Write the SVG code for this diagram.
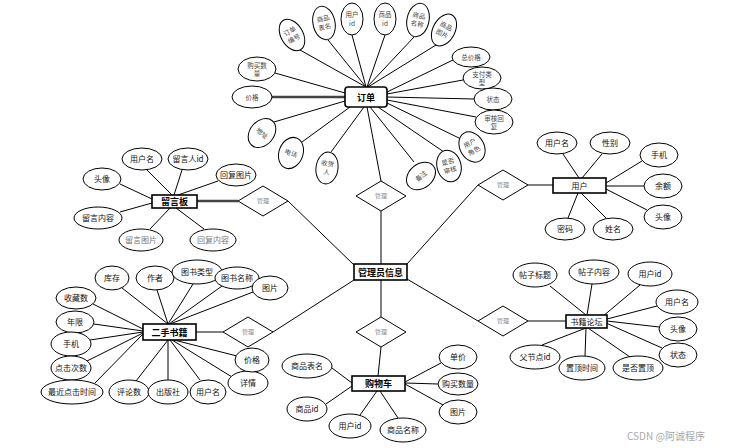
<svg xmlns="http://www.w3.org/2000/svg" width="738" height="448" viewBox="0 0 738 448">
<style>
.e{fill:#fff;stroke:#000;stroke-width:1}
.t{font-family:"Noto Sans CJK SC","Noto Sans",sans-serif;font-size:8px;text-anchor:middle;fill:#111}
.g{fill:#777}
.o{font-family:"Noto Sans CJK SC","Noto Sans",sans-serif;font-size:6.5px;text-anchor:middle;fill:#444}
.b{fill:#fff;stroke:#000;stroke-width:1.6}
.bt{font-family:"Noto Sans CJK SC","Noto Sans",sans-serif;font-size:9px;font-weight:bold;text-anchor:middle;fill:#000}
.d{fill:#fff;stroke:#000;stroke-width:1}
.dt{font-family:"Noto Sans CJK SC","Noto Sans",sans-serif;font-size:6px;text-anchor:middle;fill:#888}
.c line{stroke:#000;stroke-width:1}
.c .k{stroke:#444;stroke-width:2.5}
.w{font-family:"Noto Sans CJK SC","Noto Sans",sans-serif;font-size:10px;fill:#aaa}
</style>
<rect width="738" height="448" fill="#fff"/>
<g id="connectors" class="c">
<line x1="366" y1="87" x2="300" y2="50"/>
<line x1="366" y1="87" x2="328" y2="40"/>
<line x1="366" y1="87" x2="352" y2="35"/>
<line x1="367" y1="87" x2="385" y2="35"/>
<line x1="367" y1="87" x2="414" y2="37"/>
<line x1="368" y1="87" x2="436" y2="45"/>
<line x1="387" y1="92" x2="453" y2="60"/>
<line x1="387" y1="94" x2="463" y2="80"/>
<line x1="387" y1="97" x2="474" y2="99"/>
<line x1="387" y1="100" x2="476" y2="117"/>
<line x1="387" y1="103" x2="461" y2="139"/>
<line x1="378" y1="107" x2="444" y2="152"/>
<line x1="370" y1="107" x2="414" y2="162"/>
<line x1="364" y1="107" x2="331" y2="152"/>
<line x1="350" y1="107" x2="302" y2="142"/>
<line x1="345" y1="101" x2="274" y2="122"/>
<line class="k" x1="345" y1="97" x2="272" y2="97"/>
<line x1="345" y1="93" x2="275" y2="73"/>
<line x1="367" y1="107" x2="381" y2="181"/>
<line x1="381" y1="211" x2="381" y2="264"/>
<line class="k" x1="197" y1="201" x2="238" y2="201"/>
<line x1="288" y1="201" x2="354" y2="265"/>
<line x1="147" y1="170" x2="172" y2="195"/>
<line x1="182" y1="170" x2="174" y2="195"/>
<line x1="218" y1="181" x2="178" y2="195"/>
<line x1="120" y1="184" x2="152" y2="199"/>
<line x1="120" y1="212" x2="152" y2="203"/>
<line x1="150" y1="229" x2="170" y2="208"/>
<line x1="204" y1="229" x2="176" y2="208"/>
<line x1="528" y1="185" x2="553" y2="185"/>
<line x1="478" y1="185" x2="407" y2="264"/>
<line x1="563" y1="154" x2="579" y2="178"/>
<line x1="602" y1="154" x2="582" y2="178"/>
<line x1="642" y1="161" x2="606" y2="183"/>
<line x1="644" y1="186" x2="606" y2="186"/>
<line x1="647" y1="210" x2="606" y2="189"/>
<line x1="568" y1="218" x2="578" y2="193"/>
<line x1="606" y1="218" x2="581" y2="193"/>
<line x1="196" y1="332" x2="223" y2="332"/>
<line x1="273" y1="332" x2="354" y2="280"/>
<line x1="122" y1="288" x2="168" y2="324"/>
<line x1="157" y1="290" x2="168" y2="324"/>
<line x1="193" y1="284" x2="168" y2="324"/>
<line x1="222" y1="286" x2="169" y2="324"/>
<line x1="253" y1="292" x2="170" y2="324"/>
<line x1="93" y1="304" x2="143" y2="329"/>
<line x1="94" y1="324" x2="143" y2="331"/>
<line x1="90" y1="340" x2="143" y2="332"/>
<line x1="87" y1="361" x2="143" y2="333"/>
<line x1="95" y1="383" x2="143" y2="334"/>
<line x1="136" y1="381" x2="168" y2="340"/>
<line x1="168" y1="380" x2="168" y2="340"/>
<line x1="200" y1="380" x2="170" y2="340"/>
<line x1="232" y1="377" x2="172" y2="340"/>
<line x1="237" y1="356" x2="174" y2="340"/>
<line x1="381" y1="317" x2="381" y2="280"/>
<line x1="381" y1="347" x2="378" y2="376"/>
<line x1="332" y1="368" x2="352" y2="383"/>
<line x1="326" y1="404" x2="352" y2="386"/>
<line x1="360" y1="415" x2="377" y2="391"/>
<line x1="398" y1="418" x2="380" y2="391"/>
<line x1="441" y1="363" x2="405" y2="382"/>
<line x1="438" y1="384" x2="405" y2="383"/>
<line x1="443" y1="405" x2="405" y2="384"/>
<line x1="528" y1="321" x2="566" y2="321"/>
<line x1="478" y1="321" x2="407" y2="279"/>
<line x1="550" y1="286" x2="586" y2="315"/>
<line x1="592" y1="284" x2="587" y2="315"/>
<line x1="640" y1="285" x2="602" y2="317"/>
<line x1="657" y1="306" x2="607" y2="319"/>
<line x1="659" y1="327" x2="607" y2="321"/>
<line x1="662" y1="348" x2="606" y2="323"/>
<line x1="542" y1="345" x2="586" y2="328"/>
<line x1="585" y1="356" x2="586" y2="328"/>
<line x1="630" y1="357" x2="588" y2="328"/>
</g>

<g id="order">
<rect class="b" x="345" y="87" width="42" height="20" rx="3"/>
<text class="bt" x="366" y="101">订单</text>
</g>
<g id="order-attrs">
<g transform="translate(292,35) rotate(-30)"><ellipse class="e" rx="11" ry="17"/><text class="o" y="-2">订单</text><text class="o" y="6.5">编号</text></g>
<g transform="translate(324,23) rotate(-12)"><ellipse class="e" rx="11" ry="17"/><text class="o" y="-2">商品</text><text class="o" y="6.5">表名</text></g>
<g transform="translate(352,19)"><ellipse class="e" rx="11" ry="16"/><text class="o" y="-2">用户</text><text class="o" y="6.5">id</text></g>
<g transform="translate(385,19)"><ellipse class="e" rx="11" ry="16"/><text class="o" y="-2">商品</text><text class="o" y="6.5">id</text></g>
<g transform="translate(418,20) rotate(12)"><ellipse class="e" rx="11" ry="17"/><text class="o" y="-2">商品</text><text class="o" y="6.5">名称</text></g>
<g transform="translate(444,30) rotate(28)"><ellipse class="e" rx="11" ry="17"/><text class="o" y="-2">商品</text><text class="o" y="6.5">图片</text></g>
<g transform="translate(471,57)"><ellipse class="e" rx="19" ry="10"/><text class="o" y="2.5">总价格</text></g>
<g transform="translate(482,78)"><ellipse class="e" rx="19" ry="11"/><text class="o" y="-1.5">支付类</text><text class="o" y="7">型</text></g>
<g transform="translate(493,99)"><ellipse class="e" rx="19" ry="11"/><text class="o" y="2.5">状态</text></g>
<g transform="translate(494,122)"><ellipse class="e" rx="19" ry="12"/><text class="o" y="-1.5">审核回</text><text class="o" y="7">复</text></g>
<g transform="translate(472,147) rotate(-30)"><ellipse class="e" rx="12" ry="16"/><text class="o" y="-2">用户</text><text class="o" y="6.5">角色</text></g>
<g transform="translate(449,166) rotate(-15)"><ellipse class="e" rx="12" ry="16"/><text class="o" y="-2">是否</text><text class="o" y="6.5">审核</text></g>
<g transform="translate(421,176) rotate(-40)"><ellipse class="e" rx="16" ry="12"/><text class="o" y="2.5">备注</text></g>
<g transform="translate(327,168) rotate(8)"><ellipse class="e" rx="11" ry="16"/><text class="o" y="-2">收货</text><text class="o" y="6.5">人</text></g>
<g transform="translate(291,153) rotate(20)"><ellipse class="e" rx="12" ry="16"/><text class="o" y="2.5">电话</text></g>
<g transform="translate(262,133) rotate(40)"><ellipse class="e" rx="12" ry="16"/><text class="o" y="2.5">地址</text></g>
<g transform="translate(252,97)"><ellipse class="e" rx="20" ry="11"/><text class="o" y="2.5">价格</text></g>
<g transform="translate(257,69)"><ellipse class="e" rx="19" ry="12"/><text class="o" y="-1.5">购买数</text><text class="o" y="7">量</text></g>
</g>

<g id="admin">
<rect class="b" x="354" y="264" width="53" height="16"/>
<text class="bt" x="380.5" y="275.5">管理员信息</text>
</g>

<g id="rel-order"><polygon class="d" points="356,196 381,181 406,196 381,211"/><text class="dt" x="381" y="198">管理</text></g>
<g id="rel-board"><polygon class="d" points="238,201 263,186 288,201 263,216"/><text class="dt" x="263" y="203">管理</text></g>
<g id="rel-user"><polygon class="d" points="478,185 503,170 528,185 503,200"/><text class="dt" x="503" y="187">管理</text></g>
<g id="rel-book"><polygon class="d" points="223,332 248,317 273,332 248,347"/><text class="dt" x="248" y="334">管理</text></g>
<g id="rel-cart"><polygon class="d" points="356,332 381,317 406,332 381,347"/><text class="dt" x="381" y="334">管理</text></g>
<g id="rel-forum"><polygon class="d" points="478,321 503,306 528,321 503,336"/><text class="dt" x="503" y="323">管理</text></g>

<g id="board">
<rect class="b" x="152" y="195" width="45" height="13"/>
<text class="bt" x="174.5" y="205">留言板</text>
</g>
<g id="board-attrs">
<ellipse class="e" cx="142" cy="159" rx="20" ry="11"/><text class="t" x="142" y="162">用户名</text>
<ellipse class="e" cx="188" cy="159" rx="20" ry="11"/><text class="t" x="188" y="162">留言人id</text>
<ellipse class="e" cx="236" cy="175" rx="20" ry="11"/><text class="t" x="236" y="178">回复图片</text>
<ellipse class="e" cx="102" cy="179" rx="19" ry="11"/><text class="t" x="102" y="182">头像</text>
<ellipse class="e" cx="98" cy="218" rx="24" ry="11"/><text class="t" x="98" y="221">留言内容</text>
<ellipse class="e" cx="141" cy="240" rx="22" ry="11"/><text class="t g" x="141" y="243">留言图片</text>
<ellipse class="e" cx="213" cy="240" rx="23" ry="11"/><text class="t g" x="213" y="243">回复内容</text>
</g>

<g id="user">
<rect class="b" x="553" y="178" width="53" height="15"/>
<text class="t" x="579.5" y="188.5">用户</text>
</g>
<g id="user-attrs">
<ellipse class="e" cx="557" cy="143" rx="20" ry="11"/><text class="t" x="557" y="146">用户名</text>
<ellipse class="e" cx="610" cy="143" rx="20" ry="11"/><text class="t" x="610" y="146">性别</text>
<ellipse class="e" cx="659" cy="155" rx="19" ry="12"/><text class="t" x="659" y="158">手机</text>
<ellipse class="e" cx="663" cy="186" rx="19" ry="12"/><text class="t" x="663" y="189">余额</text>
<ellipse class="e" cx="663" cy="217" rx="19" ry="12"/><text class="t" x="663" y="220">头像</text>
<ellipse class="e" cx="565" cy="229" rx="20" ry="11"/><text class="t" x="565" y="232">密码</text>
<ellipse class="e" cx="613" cy="229" rx="20" ry="11"/><text class="t" x="613" y="232">姓名</text>
</g>

<g id="book">
<rect class="b" x="143" y="324" width="53" height="16"/>
<text class="bt" x="169.5" y="335.5">二手书籍</text>
</g>
<g id="book-attrs">
<ellipse class="e" cx="112" cy="278" rx="17" ry="12"/><text class="t" x="112" y="281">库存</text>
<ellipse class="e" cx="155" cy="278" rx="19" ry="12"/><text class="t" x="155" y="281">作者</text>
<ellipse class="e" cx="197" cy="272" rx="25" ry="12"/><text class="t" x="197" y="275">图书类型</text>
<ellipse class="e" cx="237" cy="278" rx="22" ry="11"/><text class="t" x="237" y="281">图书名称</text>
<ellipse class="e" cx="270" cy="288" rx="18" ry="12"/><text class="t" x="270" y="291">图片</text>
<ellipse class="e" cx="76" cy="298" rx="20" ry="11"/><text class="t" x="76" y="301">收藏数</text>
<ellipse class="e" cx="75" cy="322" rx="19" ry="11"/><text class="t" x="75" y="325">年限</text>
<ellipse class="e" cx="71" cy="344" rx="20" ry="12"/><text class="t" x="71" y="347">手机</text>
<ellipse class="e" cx="71" cy="368" rx="20" ry="12"/><text class="t" x="71" y="371">点击次数</text>
<ellipse class="e" cx="72" cy="392" rx="31" ry="12"/><text class="t" x="72" y="395">最近点击时间</text>
<ellipse class="e" cx="129" cy="392" rx="20" ry="12"/><text class="t" x="129" y="395">评论数</text>
<ellipse class="e" cx="168" cy="392" rx="20" ry="12"/><text class="t" x="168" y="395">出版社</text>
<ellipse class="e" cx="208" cy="392" rx="18" ry="12"/><text class="t" x="208" y="395">用户名</text>
<ellipse class="e" cx="248" cy="383" rx="20" ry="12"/><text class="t" x="248" y="386">详情</text>
<ellipse class="e" cx="252" cy="360" rx="17" ry="12"/><text class="t" x="252" y="363">价格</text>
</g>

<g id="cart">
<rect class="b" x="352" y="376" width="53" height="15"/>
<text class="bt" x="378.5" y="386.5">购物车</text>
</g>
<g id="cart-attrs">
<ellipse class="e" cx="307" cy="366" rx="25" ry="12"/><text class="t" x="307" y="369">商品表名</text>
<ellipse class="e" cx="307" cy="409" rx="20" ry="12"/><text class="t" x="307" y="412">商品id</text>
<ellipse class="e" cx="350" cy="426" rx="21" ry="12"/><text class="t" x="350" y="429">用户id</text>
<ellipse class="e" cx="403" cy="430" rx="23" ry="12"/><text class="t" x="403" y="433">商品名称</text>
<ellipse class="e" cx="458" cy="357" rx="19" ry="12"/><text class="t" x="458" y="360">单价</text>
<ellipse class="e" cx="458" cy="384" rx="20" ry="11"/><text class="t" x="458" y="387">购买数量</text>
<ellipse class="e" cx="458" cy="412" rx="19" ry="12"/><text class="t" x="458" y="415">图片</text>
</g>

<g id="forum">
<rect class="b" x="566" y="315" width="41" height="13"/>
<text class="t" x="586.5" y="324.5">书籍论坛</text>
</g>
<g id="forum-attrs">
<ellipse class="e" cx="535" cy="275" rx="22" ry="12"/><text class="t" x="535" y="278">帖子标题</text>
<ellipse class="e" cx="594" cy="272" rx="25" ry="12"/><text class="t" x="594" y="275">帖子内容</text>
<ellipse class="e" cx="650" cy="274" rx="22" ry="12"/><text class="t" x="650" y="277">用户id</text>
<ellipse class="e" cx="677" cy="302" rx="21" ry="12"/><text class="t" x="677" y="305">用户名</text>
<ellipse class="e" cx="678" cy="329" rx="19" ry="12"/><text class="t" x="678" y="332">头像</text>
<ellipse class="e" cx="678" cy="355" rx="19" ry="12"/><text class="t" x="678" y="358">状态</text>
<ellipse class="e" cx="535" cy="357" rx="25" ry="12"/><text class="t" x="535" y="360">父节点id</text>
<ellipse class="e" cx="582" cy="368" rx="23" ry="12"/><text class="t" x="582" y="371">置顶时间</text>
<ellipse class="e" cx="638" cy="368" rx="25" ry="12"/><text class="t" x="638" y="371">是否置顶</text>
</g>

<text class="w" x="627" y="440">CSDN @阿诚程序</text>
</svg>
